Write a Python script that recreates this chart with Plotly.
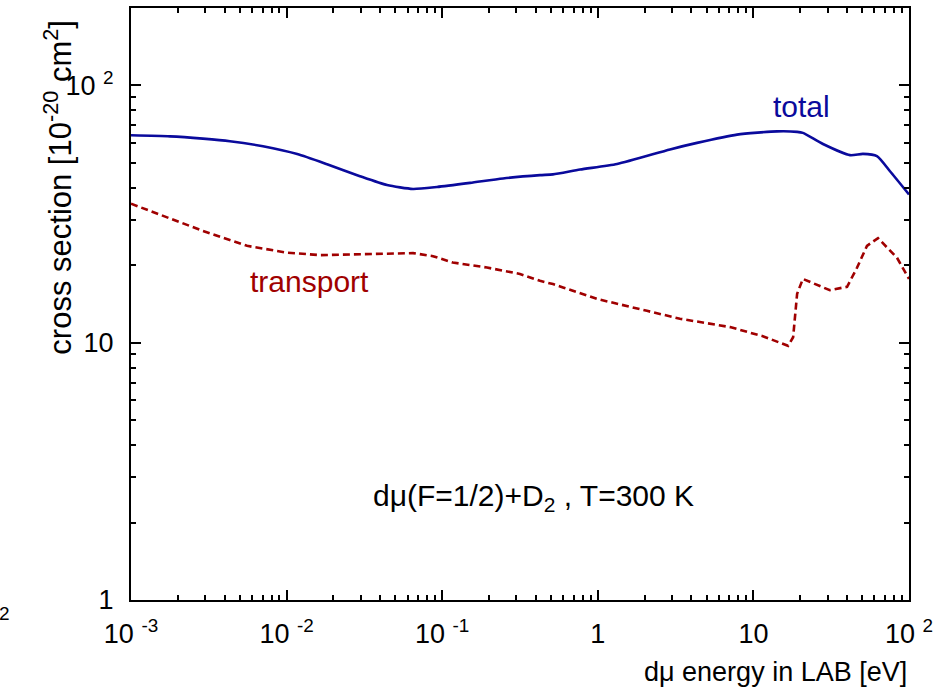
import plotly.graph_objects as go

# dmu(F=1/2) + D2 scattering cross sections at T = 300 K
total_energy = [0.001, 0.00178, 0.0029, 0.00432, 0.00705, 0.0117, 0.0182, 0.0296,
                0.0442, 0.0649, 0.0926, 0.151, 0.246, 0.425, 0.515, 0.769, 1.33,
                2.91, 4.34, 7.85, 14.2, 19.1, 20.8, 28.0, 41.8, 50.6, 62.2, 75.5, 100.0]
total_sigma = [64.0, 63.4, 62.1, 60.7, 58.0, 54.1, 49.4, 44.4,
               41.0, 39.6, 40.3, 41.8, 43.5, 44.8, 45.1, 47.1, 49.5,
               56.4, 59.8, 64.4, 66.3, 66.0, 65.4, 59.2, 53.6, 54.2, 53.1, 46.4, 37.7]

transport_energy = [0.001, 0.00161, 0.0029, 0.00557, 0.01, 0.0164, 0.0296, 0.0649,
                    0.0873, 0.117, 0.194, 0.316, 0.425, 0.515, 0.597, 0.989, 2.07,
                    3.37, 7.08, 11.5, 16.7, 18.0, 19.1, 20.8, 31.0, 40.0, 46.4,
                    53.7, 63.2, 83.7, 100.0]
transport_sigma = [34.7, 31.1, 27.2, 23.8, 22.4, 21.9, 22.1, 22.3,
                   21.7, 20.5, 19.6, 18.5, 17.4, 16.9, 16.4, 14.8, 13.3,
                   12.4, 11.5, 10.6, 9.73, 10.5, 15.5, 17.7, 16.0, 16.5, 19.6,
                   23.8, 25.5, 21.4, 17.7]

x_tick_vals = [0.001, 0.01, 0.1, 1, 10, 100]
x_tick_text = ["10 <sup>-3</sup>", "10 <sup>-2</sup>", "10 <sup>-1</sup>", "1", "10", "10 <sup>2</sup>"]
y_tick_vals = [1, 10, 100]
y_tick_text = ["1", "10", "10 <sup>2</sup>"]

x_minor = [k * 10.0 ** d for d in range(-3, 2) for k in range(2, 10)]
y_minor = [k * 10.0 ** d for d in range(0, 2) for k in range(2, 10)]

BLUE = "#0a0a9c"
RED = "#a00000"
FONT = "Liberation Sans, Arial, Helvetica, sans-serif"

fig = go.Figure()
fig.add_trace(go.Scatter(x=total_energy, y=total_sigma, mode="lines",
                         line=dict(color=BLUE, width=2.6, shape="spline", smoothing=0.6),
                         showlegend=False))
fig.add_trace(go.Scatter(x=transport_energy, y=transport_sigma, mode="lines",
                         line=dict(color=RED, width=2.6, dash="7px,4px"), showlegend=False))

axis_common = dict(
    showline=True, linecolor="black", linewidth=2, mirror="allticks",
    ticks="inside", ticklen=10, tickwidth=1.5, tickcolor="black",
    showgrid=False, zeroline=False,
    tickfont=dict(family=FONT, size=27, color="black"),
)

fig.update_xaxes(type="log", range=[-3, 2], tickvals=x_tick_vals, ticktext=x_tick_text,
                 minor=dict(tickvals=x_minor, ticks="inside", ticklen=5, tickwidth=1.5,
                            tickcolor="black", showgrid=False),
                 ticklabelstandoff=9, **axis_common)
fig.update_yaxes(type="log", range=[0, 2.301], tickvals=y_tick_vals, ticktext=y_tick_text,
                 minor=dict(tickvals=y_minor, ticks="inside", ticklen=5, tickwidth=1.5,
                            tickcolor="black", showgrid=False),
                 ticklabelstandoff=10, **axis_common)

annotations = [
    dict(text="total", x=1.312, y=1.919, xref="x", yref="y", showarrow=False,
         font=dict(family=FONT, size=30, color=BLUE)),
    dict(text="transport", x=-1.856, y=1.238, xref="x", yref="y", showarrow=False,
         font=dict(family=FONT, size=30, color=RED)),
    dict(text="dμ(F=1/2)+D<sub>2</sub> , T=300 K", x=-0.416, y=0.40, xref="x", yref="y",
         showarrow=False, font=dict(family=FONT, size=30, color="black")),
    dict(text="dμ energy in LAB [eV]", x=1.0, y=-0.121, xref="paper", yref="paper",
         xanchor="right", yanchor="middle", showarrow=False,
         font=dict(family=FONT, size=27, color="black")),
    dict(text="cross section [10<sup>-20</sup> cm<sup>2</sup>]", x=-0.094, y=0.698,
         xref="paper", yref="paper", textangle=-90, xanchor="center", yanchor="middle",
         showarrow=False, font=dict(family=FONT, size=31, color="black")),
    dict(text="2", x=-0.163, y=-0.022, xref="paper", yref="paper", xanchor="center",
         yanchor="middle", showarrow=False, font=dict(family=FONT, size=19, color="black")),
]

fig.update_layout(
    width=947, height=690, autosize=False,
    margin=dict(l=131, r=38, t=6, b=90),
    paper_bgcolor="white", plot_bgcolor="white",
    annotations=annotations,
    font=dict(family=FONT, color="black"),
)

fig.write_html("out.html")
